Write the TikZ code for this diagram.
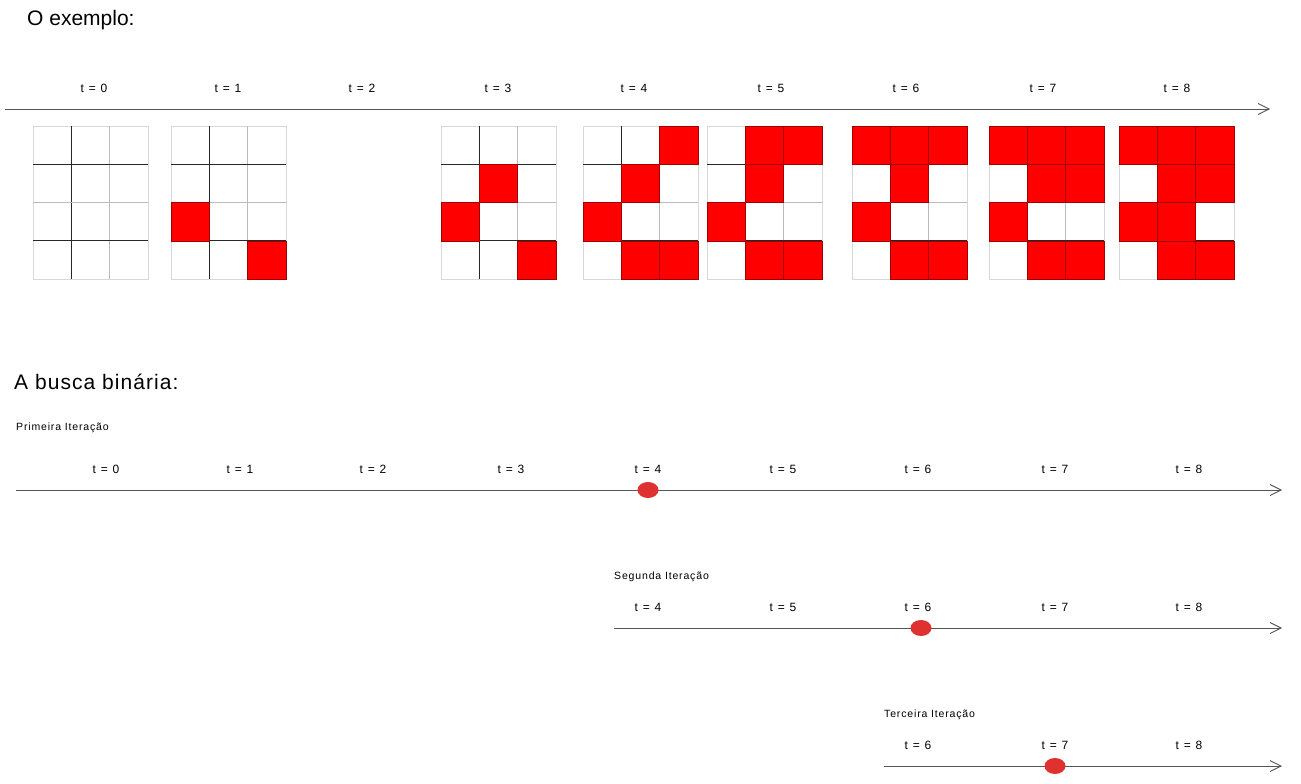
\documentclass[tikz,border=0pt]{standalone}
\usepackage{fontspec}
\setmainfont{Liberation Sans}
\newfontfamily\widefont[LetterSpace=12]{Liberation Sans}
\newfontfamily\iterfont[LetterSpace=8]{Liberation Sans}
\usetikzlibrary{arrows.meta,shapes.geometric}
\definecolor{cellred}{HTML}{FF0000}
\definecolor{celledge}{HTML}{A00000}
\definecolor{dotred}{HTML}{E03131}
\definecolor{axisgray}{HTML}{555555}
\definecolor{lightline}{HTML}{D8D8D8}
\definecolor{midline}{HTML}{BBBBBB}
\tikzset{
  axis/.style={draw=axisgray, line width=1pt, -{Straight Barb[length=11pt,width=11pt,line width=0.9pt]}},
  tlabel/.style={font=\widefont\fontsize{12}{14}\selectfont, inner sep=0pt, anchor=center},
  title/.style={font=\fontsize{21}{24}\selectfont, inner sep=0pt, anchor=west},
  title2/.style={font=\addfontfeature{LetterSpace=5}\fontsize{21}{24}\selectfont, inner sep=0pt, anchor=west},
  iter/.style={font=\iterfont\fontsize{10.5}{12}\selectfont, inner sep=0pt, anchor=west},
  dot/.style={ellipse, fill=dotred, draw=none, minimum width=21pt, minimum height=16pt, inner sep=0pt},
  redcell/.style={fill=cellred, draw=celledge, line width=0.6pt},
  darkline/.style={draw=black!85, line width=1pt},
  grayline/.style={draw=midline, line width=1.4pt},
  outline/.style={draw=lightline, line width=0.8pt},
}
\newcommand\cellsz{38.3}
\newcommand\drawgridframe[1]{%
  \draw[outline] (#1,126) rectangle ({#1+3*\cellsz},{126+4*\cellsz});
  \draw[darkline] ({#1+\cellsz},126) -- ({#1+\cellsz},{126+4*\cellsz});
  \draw[grayline] ({#1+2*\cellsz},126) -- ({#1+2*\cellsz},{126+4*\cellsz});
  \draw[darkline] (#1,{126+\cellsz}) -- ({#1+3*\cellsz},{126+\cellsz});
  \draw[grayline] (#1,{126+2*\cellsz}) -- ({#1+3*\cellsz},{126+2*\cellsz});
  \draw[darkline] (#1,{126+3*\cellsz}) -- ({#1+3*\cellsz},{126+3*\cellsz});
}
\newcommand\drawgridcells[2]{%
  \foreach \r/\c in {#2} {
    \draw[redcell] ({#1+\c*\cellsz},{126+\r*\cellsz}) rectangle ++(\cellsz,\cellsz);
  }
}
\begin{document}
\begin{tikzpicture}[x=1pt,y=-1pt]
\useasboundingbox (0,0) rectangle (1301,784);
\fill[white] (0,0) rectangle (1301,784);

% titles
\node[title] (title1) at (27,20) {O exemplo:};
\node[title2] (title2) at (14,382) {A busca binária:};

% top timeline
\coordinate (a1s) at (5,109);
\coordinate (a1e) at (1270,109);
\draw[axis] (a1s) -- (a1e);
\foreach \k/\x in {0/94,1/228,2/362,3/498,4/634,5/771,6/906,7/1043,8/1177} {
  \node[tlabel] (top\k) at (\x,88) {t = \k};
}

% grids
\drawgridframe{33}
\drawgridframe{171}
\drawgridcells{171}{2/0,3/2}
\drawgridframe{441}
\drawgridcells{441}{1/1,2/0,3/2}
\drawgridframe{583}
\drawgridcells{583}{0/2,1/1,2/0,3/1,3/2}
\drawgridframe{707}
\drawgridcells{707}{0/1,0/2,1/1,2/0,3/1,3/2}
\drawgridframe{852}
\drawgridcells{852}{0/0,0/1,0/2,1/1,2/0,3/1,3/2}
\drawgridframe{989}
\drawgridcells{989}{0/0,0/1,0/2,1/1,1/2,2/0,3/1,3/2}
\drawgridframe{1119}
\drawgridcells{1119}{0/0,0/1,0/2,1/1,1/2,2/0,2/1,3/1,3/2}

% first iteration
\node[iter] (it1) at (16,428) {Primeira Iteração};
\coordinate (b1s) at (16,490);
\coordinate (b1e) at (1282,490);
\draw[axis] (b1s) -- (b1e);
\foreach \k/\x in {0/106,1/240,2/373,3/511,4/648,5/783,6/918,7/1055,8/1189} {
  \node[tlabel] (f\k) at (\x,469) {t = \k};
}
\node[dot] (d1) at (648,490) {};

% second iteration
\node[iter] (it2) at (614,577) {Segunda Iteração};
\coordinate (b2s) at (614,628);
\coordinate (b2e) at (1282,628);
\draw[axis] (b2s) -- (b2e);
\foreach \k/\x in {4/648,5/783,6/918,7/1055,8/1189} {
  \node[tlabel] (s\k) at (\x,607) {t = \k};
}
\node[dot] (d2) at (921,628) {};

% third iteration
\node[iter] (it3) at (884,715) {Terceira Iteração};
\coordinate (b3s) at (884,766);
\coordinate (b3e) at (1282,766);
\draw[axis] (b3s) -- (b3e);
\foreach \k/\x in {6/918,7/1055,8/1189} {
  \node[tlabel] (r\k) at (\x,745) {t = \k};
}
\node[dot] (d3) at (1055,766) {};
\end{tikzpicture}
\end{document}
